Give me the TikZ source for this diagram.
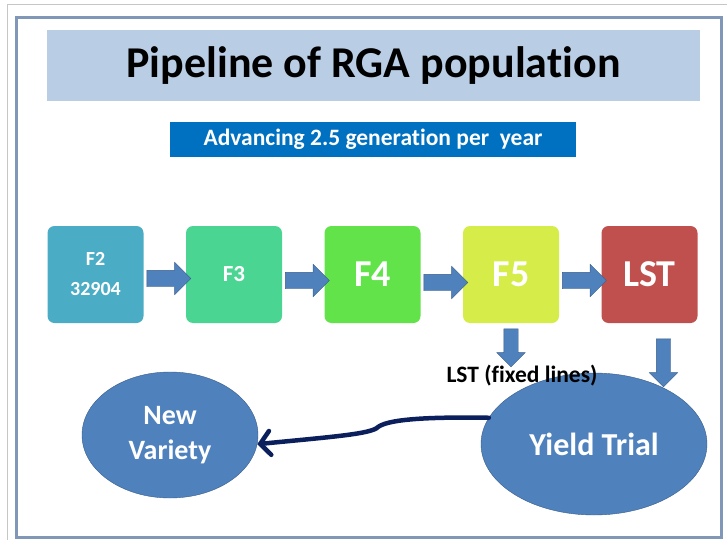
\documentclass[tikz,border=0pt]{standalone}
\usepackage{fontspec}
\setmainfont{Carlito}[Ligatures=NoCommon]
\usetikzlibrary{shapes.geometric,shapes.arrows,arrows.meta,positioning,calc}
\definecolor{bandblue}{HTML}{B9CDE5}
\definecolor{subblue}{HTML}{0070C0}
\definecolor{framegray}{HTML}{8197B8}
\definecolor{ftwo}{HTML}{4BACC6}
\definecolor{fthree}{HTML}{4AD592}
\definecolor{ffour}{HTML}{62E34A}
\definecolor{ffive}{HTML}{D6EC48}
\definecolor{flst}{HTML}{C0504D}
\definecolor{arrowblue}{HTML}{4F81BD}
\definecolor{arrowedge}{HTML}{385D8A}
\definecolor{navy}{HTML}{0A1F5C}
\tikzstyle{gen} = [rectangle, rounded corners=7pt, minimum width=96pt, minimum height=97pt, text centered, align=center, text=white, inner sep=0pt]
\tikzstyle{blockarrow} = [single arrow, draw=arrowedge, fill=arrowblue, inner xsep=0pt, inner ysep=8pt, single arrow head extend=8pt, minimum height=44pt]
\tikzstyle{downarrow} = [blockarrow, rotate=-90, inner ysep=7pt, single arrow head extend=7pt]
\tikzstyle{stage} = [ellipse, draw=arrowedge, fill=arrowblue, text=white, align=center, inner sep=0pt]
\tikzstyle{arrow} = [line width=4.5pt, draw=navy, line cap=round, -{Straight Barb[length=10pt,width=24pt,line cap=round]}]

\begin{document}
\begin{tikzpicture}[x=1pt,y=-1pt,node distance=138.5pt]
\useasboundingbox (0,0) rectangle (727,540);
% frame
\draw[gray!45, line width=1pt] (7,540) -- (7,5) -- (727,5);
\draw[framegray, line width=3pt] (16,18) rectangle (721,537);

\node (Title)[fill=bandblue, minimum width=653pt, minimum height=71pt, font=\fontsize{44}{50}\selectfont\bfseries] at (373.5,65.5) {Pipeline of RGA population};
\node (Subtitle)[fill=subblue, text=white, minimum width=406pt, minimum height=35pt, font=\fontsize{23.5}{27}\selectfont\bfseries] at (373,139.5) {Advancing 2.5 generation per\ \ year};

% generations
\node (F2box)[gen, fill=ftwo, font=\fontsize{20}{30}\selectfont\bfseries] at (95.5,274.5) {F2\\32904};
\node (F3box)[gen, fill=fthree, right of=F2box, font=\fontsize{23}{28}\selectfont\bfseries]{F3};
\node (F4box)[gen, fill=ffour, right of=F3box, font=\fontsize{38}{42}\selectfont\bfseries]{F4};
\node (F5box)[gen, fill=ffive, right of=F4box, font=\fontsize{38}{42}\selectfont\bfseries]{F5};
\node (LSTbox)[gen, fill=flst, right of=F5box, font=\fontsize{38}{42}\selectfont\bfseries]{LST};

\node (F2toF3)[blockarrow, yshift=-4pt] at ($(F2box.east)!0.5!(F3box.west)$) {};
\node (F3toF4)[blockarrow, yshift=-6pt] at ($(F3box.east)!0.5!(F4box.west)$) {};
\node (F4toF5)[blockarrow, yshift=-8pt] at ($(F4box.east)!0.5!(F5box.west)$) {};
\node (F5toLST)[blockarrow, yshift=-6pt] at ($(F5box.east)!0.5!(LSTbox.west)$) {};

% trials
\node (NewVariety)[stage, minimum width=176pt, minimum height=126pt, font=\fontsize{28}{35}\selectfont\bfseries] at (170,435) {New\\Variety};
\node (YieldTrial)[stage, minimum width=226pt, minimum height=142pt, font=\fontsize{32}{36}\selectfont\bfseries] at (594,444) {Yield Trial};

\node (F5down)[downarrow, minimum height=38pt] at ($(F5box.south)+(0,21)$) {};
\node (LSTdown)[downarrow, minimum height=48pt] at ($(LSTbox.south)+(14,36)$) {};
\node (FixedLines)[font=\fontsize{23.5}{26}\selectfont\bfseries] at (522,376) {LST (fixed lines)};

\draw [arrow](YieldTrial.166) .. controls (440,417) and (390,418) .. (378,427) .. controls (372,434) and (330,437) .. (NewVariety.-6);
\end{tikzpicture}
\end{document}
